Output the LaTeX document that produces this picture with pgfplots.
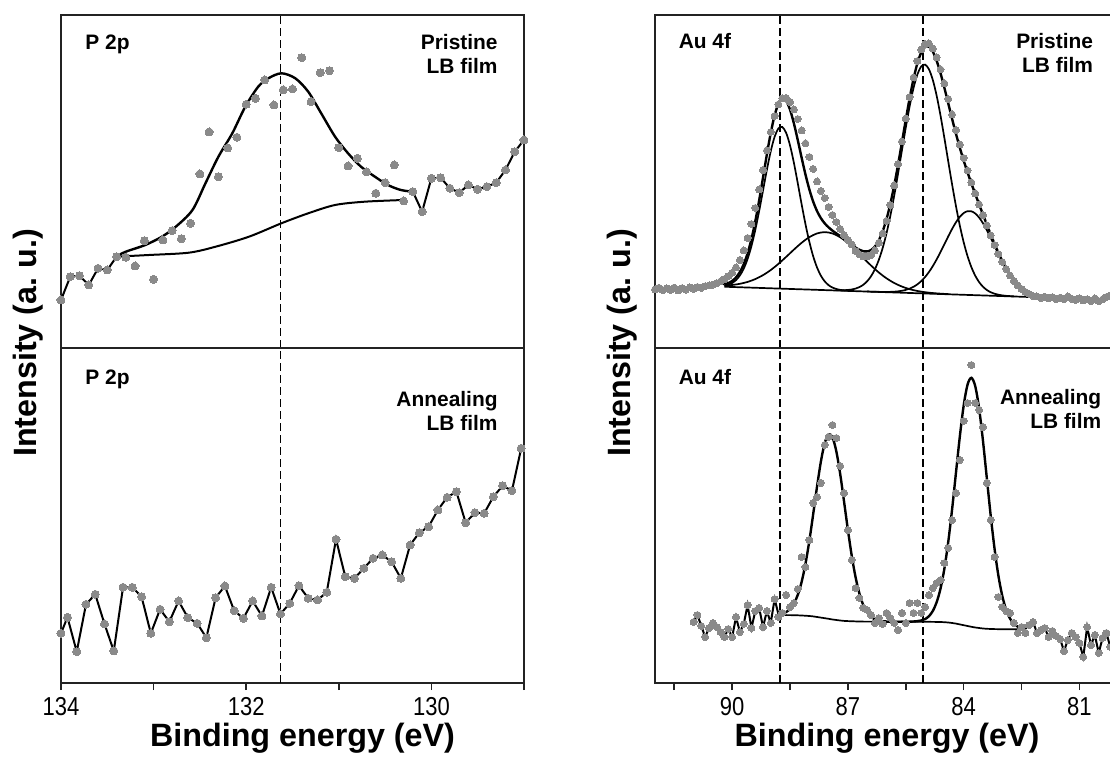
\documentclass[border=0pt]{standalone}
\usepackage{fontspec}
\setmainfont{Liberation Sans}
\newfontfamily\narrowfont[FakeStretch=0.85]{Liberation Sans}
\usepackage{pgfplots}
\pgfplotsset{compat=1.18}

\definecolor{dotgray}{RGB}{138,138,138}
\definecolor{framecol}{RGB}{35,35,35}

\tikzset{vdash/.style={black, line width=0.95bp, dash pattern=on 4bp off 2bp}}

\pgfplotsset{
  xps/.style={
    scale only axis, width=231.5bp, x dir=reverse,
    axis line style={line width=1bp, framecol},
    ytick=\empty,
    /pgf/number format/assume math mode=true,
    xticklabel style={font=\narrowfont\fontsize{13}{15}\selectfont},
    tick style={line width=0.8bp, framecol},
    tick align=outside, xtick pos=left,
    major tick length=3.5bp, minor tick length=3.5bp,
  },
  ptop/.style={height=166.5bp, ymin=0, ymax=333, xtick=\empty},
  pbot/.style={height=167.5bp, ymin=0, ymax=335},
  dots/.style={color=dotgray, only marks, mark=*, mark size=2bp, mark options={draw=dotgray, fill=dotgray, line width=0pt}},
  sdots/.style={color=dotgray, only marks, mark=*, mark size=1.75bp, mark options={draw=dotgray, fill=dotgray, line width=0pt}},
  dataline/.style={black, line width=1bp, no markers},
  fit/.style={black, line width=1.2bp, no markers, smooth, tension=0.5},
  comp/.style={black, line width=0.85bp, no markers, smooth, tension=0.5},
}

\begin{document}
\begin{tikzpicture}
\useasboundingbox (0,0) rectangle (555bp,381bp);

% ---------------- P 2p, pristine LB film ----------------
\begin{axis}[xps, ptop, at={(30.5bp,207bp)}, anchor=south west, xmin=129, xmax=134]
\addplot[dots] coordinates {
(134.0,48) (133.9,71.3) (133.8,72.3) (133.7,63) (133.6,79.7) (133.5,78)
(133.4,91.3) (133.3,90.7) (133.2,82) (133.1,107.3) (133.0,68.7) (132.9,108)
(132.8,117.3) (132.7,109.3) (132.6,124.7) (132.5,174) (132.4,216) (132.3,171.3)
(132.2,200) (132.1,210.7) (132.0,243.7) (131.9,249.7) (131.8,268) (131.7,243)
(131.6,258) (131.5,259) (131.4,290.3) (131.3,246.3) (131.2,275.3) (131.1,277.3)
(131.0,200.3) (130.9,182) (130.8,189.7) (130.7,176) (130.6,154.7) (130.5,165.3)
(130.4,183) (130.3,147) (130.2,156.3) (130.1,136.3) (130.0,169.7) (129.9,170.3)
(129.8,159.7) (129.7,155.3) (129.6,163) (129.5,158.7) (129.4,161.3) (129.3,165.3)
(129.2,178) (129.1,196.3) (129.0,208)};
\addplot[dataline] coordinates {
(134.0,48) (133.9,71.3) (133.8,72.3) (133.7,63) (133.6,79.7) (133.5,78) (133.4,91.3)};
\addplot[dataline] coordinates {
(130.2,156.3) (130.1,136.3) (130.0,169.7) (129.9,170.3) (129.8,159.7) (129.7,155.3)
(129.6,163) (129.5,158.7) (129.4,161.3) (129.3,165.3) (129.2,178) (129.1,196.3) (129.0,208)};
% fitted envelope
\addplot[fit] coordinates {
(133.41,91.3) (133.30,96.3) (133.09,103) (132.91,111.3) (132.76,121.3) (132.58,138)
(132.44,164.7) (132.30,191.3) (132.15,214.7) (132.01,241.3) (131.87,261.3) (131.76,269.7)
(131.62,274.7) (131.47,269.7) (131.33,256.3) (131.19,234.7) (131.04,211.3) (130.90,194.7)
(130.76,181.3) (130.61,171.3) (130.47,163) (130.33,158) (130.2,156.3)};
% background
\addplot[fit, line width=1bp] coordinates {
(133.41,91.3) (133.05,93) (132.62,95.3) (132.33,101.3) (131.97,111.3) (131.62,124.7)
(131.33,134.7) (131.04,143) (130.72,146.3) (130.30,148)};
\draw[vdash] (axis cs:131.63,0) -- (axis cs:131.63,333);
\end{axis}

% ---------------- P 2p, annealed LB film ----------------
\begin{axis}[xps, pbot, at={(30.5bp,39.5bp)}, anchor=south west, xmin=129, xmax=134,
  xtick={130,132,134}, minor xtick={129,131,133}]
\addplot[dots] coordinates {
(134.00,49.7) (133.93,65.7) (133.83,31.3) (133.73,78.7) (133.63,88.7) (133.53,59)
(133.43,32) (133.33,95.7) (133.23,95.7) (133.13,86.3) (133.03,49.7) (132.93,73.7)
(132.83,61.3) (132.73,82) (132.63,65.3) (132.53,59.7) (132.43,45.3) (132.33,85.3)
(132.23,97) (132.13,72.3) (132.03,64.7) (131.93,82) (131.83,67) (131.73,95.7)
(131.63,69) (131.53,79.7) (131.43,97.3) (131.33,84.7) (131.23,83) (131.13,90.7)
(131.03,143.7) (130.93,106.3) (130.83,104.7) (130.73,114.7) (130.63,124.7) (130.53,128)
(130.43,121.3) (130.33,104.7) (130.23,138) (130.13,150.3) (130.03,156.3) (129.93,173)
(129.83,185.7) (129.73,191.3) (129.63,160.3) (129.53,170.3) (129.43,169.7) (129.33,186.3)
(129.23,197.3) (129.13,192.3) (129.03,234.7)};
\addplot[dataline] coordinates {
(134.00,49.7) (133.93,65.7) (133.83,31.3) (133.73,78.7) (133.63,88.7) (133.53,59)
(133.43,32) (133.33,95.7) (133.23,95.7) (133.13,86.3) (133.03,49.7) (132.93,73.7)
(132.83,61.3) (132.73,82) (132.63,65.3) (132.53,59.7) (132.43,45.3) (132.33,85.3)
(132.23,97) (132.13,72.3) (132.03,64.7) (131.93,82) (131.83,67) (131.73,95.7)
(131.63,69) (131.53,79.7) (131.43,97.3) (131.33,84.7) (131.23,83) (131.13,90.7)
(131.03,143.7) (130.93,106.3) (130.83,104.7) (130.73,114.7) (130.63,124.7) (130.53,128)
(130.43,121.3) (130.33,104.7) (130.23,138) (130.13,150.3) (130.03,156.3) (129.93,173)
(129.83,185.7) (129.73,191.3) (129.63,160.3) (129.53,170.3) (129.43,169.7) (129.33,186.3)
(129.23,197.3) (129.13,192.3) (129.03,234.7)};
\draw[vdash] (axis cs:131.63,0) -- (axis cs:131.63,335);
\end{axis}

% ---------------- Au 4f, pristine LB film ----------------
\begin{axis}[xps, ptop, at={(327.5bp,207bp)}, anchor=south west, xmin=80, xmax=92]
\addplot[sdots] coordinates {
(92.0,58.5) (91.9,60.2) (91.8,57.8) (91.7,59.6) (91.6,58.1) (91.5,60.4) (91.4,57.5)
(91.3,59.9) (91.2,58.4) (91.1,60.6) (91.0,59.2) (90.9,61.0) (90.8,60.1) (90.7,61.8)
(90.6,62.5) (90.5,63.4) (90.4,64.8) (90.3,66.5) (90.2,68.9) (90.1,71.8) (90.0,75.2)
(89.9,80.5) (89.8,88.0) (89.7,97.5) (89.6,110.0) (89.5,124.0) (89.4,140.0) (89.3,158.5)
(89.2,178.0) (89.1,197.5) (89.0,216.0) (88.9,232.0) (88.8,243.5) (88.7,249.5) (88.6,250.0)
(88.5,246.0) (88.4,238.5) (88.3,229.0) (88.2,217.5) (88.1,204.5) (88.0,191.0) (87.9,179.0)
(87.8,166.5) (87.7,157.0) (87.6,150.0) (87.5,141.0) (87.4,133.0) (87.3,126.0) (87.2,119.0)
(87.1,113.0) (87.0,108.0) (86.9,103.5) (86.8,97.0) (86.7,93.5) (86.6,91.5) (86.5,91.5)
(86.4,93.0) (86.3,97.5) (86.2,105.0) (86.1,114.5) (86.0,127.0) (85.9,143.0) (85.8,162.5)
(85.7,184.0) (85.6,206.5) (85.5,229.5) (85.4,251.0) (85.3,270.5) (85.2,287.0) (85.1,298.5)
(85.0,304.0) (84.9,304.5) (84.8,299.5) (84.7,290.5) (84.6,278.5) (84.5,264.5) (84.4,249.0)
(84.3,233.5) (84.2,218.0) (84.1,203.5) (84.0,190.0) (83.9,177.5) (83.8,165.5) (83.7,154.5)
(83.6,143.5) (83.5,133.0) (83.4,122.5) (83.3,112.5) (83.2,103.0) (83.1,94.0) (83.0,86.0)
(82.9,79.0) (82.8,72.5) (82.7,67.0) (82.6,62.5) (82.5,59.0) (82.4,56.0) (82.3,54.0)
(82.2,52.0) (82.1,51.5) (82.0,50.0) (81.9,51.2) (81.8,49.5) (81.7,50.8) (81.6,48.9)
(81.5,50.3) (81.4,49.0) (81.3,51.5) (81.2,49.2) (81.1,48.0) (81.0,49.8) (80.9,47.5)
(80.8,48.8) (80.7,47.0) (80.6,49.5) (80.5,46.8) (80.4,48.5) (80.3,51.0) (80.2,52.5)
(80.1,50.0) (80.0,51.5)};
\addplot[dataline] coordinates {
(92.0,58.5) (91.9,60.2) (91.8,57.8) (91.7,59.6) (91.6,58.1) (91.5,60.4) (91.4,57.5)
(91.3,59.9) (91.2,58.4) (91.1,60.6) (91.0,59.2) (90.9,61.0) (90.8,60.1) (90.7,61.8)
(90.6,62.5) (90.5,63.4) (90.4,64.8) (90.3,65.5) (90.2,63.55)};
\addplot[dataline] coordinates {
(82.5,60.14) (82.4,56.0) (82.3,54.0) (82.2,52.0) (82.1,51.5) (82.0,50.0) (81.9,51.2)
(81.8,49.5) (81.7,50.8) (81.6,48.9) (81.5,50.3) (81.4,49.0) (81.3,51.5) (81.2,49.2)
(81.1,48.0) (81.0,49.8) (80.9,47.5) (80.8,48.8) (80.7,47.0) (80.6,49.5) (80.5,46.8)
(80.4,48.5) (80.3,51.0) (80.2,52.5) (80.1,50.0) (80.0,51.5)};
% background
\addplot[comp] coordinates {
(90.2,61.26) (89.0,59.7) (88.0,58.4) (87.0,57.1) (86.0,55.8) (85.0,54.5)
(84.0,53.2) (83.0,51.9) (82.0,50.6) (81.8,50.34)};
% component 4f5/2 (main)
\addplot[comp] coordinates {
(90.2,62.41) (90.1,63.33) (90.0,65.02) (89.9,67.91) (89.8,72.49) (89.7,79.37) (89.6,89.07)
(89.5,101.98) (89.4,118.14) (89.3,137.04) (89.2,157.61) (89.1,178.22) (89.0,196.78)
(88.9,211.19) (88.8,219.63) (88.7,220.98) (88.6,215.03) (88.5,202.55) (88.4,185.15)
(88.3,164.85) (88.2,143.77) (88.1,123.77) (88.0,106.17) (87.9,91.69) (87.8,80.46)
(87.7,72.27) (87.6,66.56) (87.5,62.81) (87.4,60.43) (87.3,58.98) (87.2,58.12)
(87.1,57.6) (87.0,57.27)};
% component 4f5/2 (broad)
\addplot[comp] coordinates {
(90.2,62.40) (90.0,63.02) (89.8,64.19) (89.6,66.08) (89.4,68.92) (89.2,72.86)
(89.0,77.97) (88.8,84.17) (88.6,91.14) (88.4,98.38) (88.2,105.2) (88.0,110.83)
(87.8,114.56) (87.6,115.87) (87.4,114.55) (87.2,110.75) (87.0,104.93) (86.8,97.77)
(86.6,90.03) (86.4,82.44) (86.2,75.54) (86.0,69.68) (85.8,64.98) (85.6,61.42)
(85.4,58.83) (85.2,57.02) (85.0,55.78) (84.8,54.93) (84.6,54.34) (84.4,53.9)};
% component 4f7/2 (main)
\addplot[comp] coordinates {
(87.3,57.64) (87.1,57.73) (86.9,58.51) (86.8,59.43) (86.7,60.94) (86.6,63.28)
(86.5,66.78) (86.4,71.8) (86.3,78.74) (86.2,88.0) (86.1,99.9) (86.0,114.65)
(85.9,132.25) (85.8,152.38) (85.7,174.47) (85.6,197.56) (85.5,220.47) (85.4,241.7)
(85.3,259.85) (85.2,273.5) (85.1,281.57) (85.0,283.37) (84.9,278.74) (84.8,268.08)
(84.7,252.24) (84.6,232.42) (84.5,210.05) (84.4,186.65) (84.3,163.58) (84.2,141.92)
(84.1,122.49) (84.0,105.76) (83.9,91.91) (83.8,80.83) (83.7,72.28) (83.6,65.89)
(83.5,61.27) (83.4,58.01) (83.3,55.78) (83.2,54.27) (83.1,53.27) (83.0,52.61)
(82.9,52.17) (82.7,51.62)};
% component 4f7/2 (broad)
\addplot[comp] coordinates {
(86.5,56.46) (86.3,56.24) (86.1,56.09) (85.9,56.14) (85.8,56.31) (85.7,56.65)
(85.6,57.21) (85.5,58.08) (85.4,59.37) (85.3,61.19) (85.2,63.65) (85.1,66.88)
(85.0,70.96) (84.9,75.96) (84.8,81.87) (84.7,88.59) (84.6,95.98) (84.5,103.76)
(84.4,111.58) (84.3,119.04) (84.2,125.69) (84.1,131.11) (84.0,134.91) (83.9,136.81)
(83.8,136.68) (83.7,134.52) (83.6,130.46) (83.5,124.78) (83.4,117.87) (83.3,110.15)
(83.2,102.07) (83.1,94.03) (83.0,86.38) (82.9,79.4) (82.8,73.23) (82.7,67.97)
(82.6,63.63) (82.5,60.14) (82.4,57.42) (82.3,55.34) (82.2,53.79) (82.1,52.66)
(82.0,51.84) (81.8,50.81)};
% envelope
\addplot[fit] coordinates {
(90.2,63.55) (90.1,64.86) (90.0,67.04) (89.9,70.57) (89.8,75.94) (89.7,83.79)
(89.6,94.67) (89.5,109.0) (89.4,126.84) (89.3,147.69) (89.2,170.51) (89.1,193.66)
(89.0,215.05) (88.9,232.57) (88.8,244.36) (88.7,249.25) (88.6,246.99) (88.5,238.27)
(88.4,224.61) (88.3,207.94) (88.2,190.31) (88.1,173.45) (88.0,158.6) (87.9,146.38)
(87.8,136.88) (87.7,129.79) (87.6,124.55) (87.5,120.6) (87.4,117.36) (87.3,114.58)
(87.2,111.79) (87.1,108.93) (87.0,105.99) (86.9,103.08) (86.8,100.36) (86.7,98.16)
(86.6,96.73) (86.5,96.52) (86.4,97.95) (86.3,101.48) (86.2,107.57) (86.1,116.6)
(86.0,128.81) (85.9,144.23) (85.8,162.59) (85.7,183.37) (85.6,205.63) (85.5,228.27)
(85.4,249.86) (85.3,269.1) (85.2,284.65) (85.1,295.53) (85.0,301.11) (84.9,301.28)
(84.8,296.4) (84.7,287.22) (84.6,274.78) (84.5,260.21) (84.4,244.69) (84.3,229.15)
(84.2,214.23) (84.1,200.32) (84.0,187.47) (83.9,175.65) (83.8,164.57) (83.7,153.99)
(83.6,143.67) (83.5,133.5) (83.4,123.46) (83.3,113.64) (83.2,104.18) (83.1,95.27)
(83.0,87.09) (82.9,79.8) (82.8,73.44) (82.7,68.08) (82.6,63.68) (82.5,60.14)
(82.4,57.42) (82.3,55.34) (82.2,53.79) (82.1,52.66) (82.0,51.84) (81.9,51.24) (81.8,50.81)};
\draw[vdash] (axis cs:88.75,0) -- (axis cs:88.75,333);
\draw[vdash] (axis cs:85.05,0) -- (axis cs:85.05,333);
\end{axis}

% ---------------- Au 4f, annealed LB film ----------------
\begin{axis}[xps, pbot, at={(327.5bp,39.5bp)}, anchor=south west, xmin=80, xmax=92,
  xtick={81,84,87,90}, minor xtick={82.5,85.5,88.5,91.5}]
\addplot[sdots] coordinates {
(91.0,61) (90.9,68) (90.8,57) (90.7,46) (90.6,55) (90.5,60) (90.4,56) (90.3,51)
(90.2,46) (90.1,54) (90.0,46) (89.9,66) (89.8,51) (89.7,59) (89.6,78) (89.5,55)
(89.4,72) (89.3,75) (89.2,56) (89.1,72) (89.0,60) (88.9,84) (88.8,66) (88.7,70)
(88.6,88) (88.5,76) (88.4,80) (88.3,94) (88.2,126) (88.1,116) (88.0,143) (87.9,180)
(87.8,186) (87.7,200) (87.6,238) (87.5,246) (87.4,258) (87.3,245) (87.2,217) (87.1,190)
(87.0,153) (86.9,123) (86.8,95) (86.7,85) (86.6,75) (86.5,73) (86.4,68) (86.3,60)
(86.2,65) (86.1,59) (86.0,70) (85.9,65) (85.8,60) (85.7,53) (85.6,70) (85.5,60)
(85.4,80) (85.3,70) (85.2,80) (85.1,70) (85.0,76) (84.9,88) (84.8,95) (84.7,100)
(84.6,103) (84.5,120) (84.4,135) (84.3,163) (84.2,190) (84.1,223) (84.0,262) (83.9,280)
(83.8,318) (83.7,280) (83.6,273) (83.5,256) (83.4,200) (83.3,163) (83.2,126) (83.1,86)
(83.0,76) (82.9,72) (82.8,70) (82.7,60) (82.6,50) (82.5,56) (82.4,50) (82.3,58)
(82.2,61) (82.1,50) (82.0,53) (81.9,55) (81.8,46) (81.7,52) (81.6,47) (81.5,44)
(81.4,32) (81.3,43) (81.2,50) (81.1,46) (81.0,40) (80.9,26) (80.8,56) (80.7,38)
(80.6,48) (80.5,30) (80.4,45) (80.3,50) (80.2,36) (80.1,44) (80.0,40)};
\addplot[dataline] coordinates {
(91.0,61) (90.9,68) (90.8,57) (90.7,46) (90.6,55) (90.5,60) (90.4,56) (90.3,51)
(90.2,46) (90.1,54) (90.0,46) (89.9,66) (89.8,51) (89.7,59) (89.6,78) (89.5,55)
(89.4,72) (89.3,75) (89.2,56) (89.1,72) (89.0,60) (88.9,84) (88.8,68.64)};
\addplot[dataline] coordinates {
(82.4,54.23) (82.3,58) (82.2,61) (82.1,50) (82.0,53) (81.9,55) (81.8,46) (81.7,52)
(81.6,47) (81.5,44) (81.4,32) (81.3,43) (81.2,50) (81.1,46) (81.0,40) (80.9,26)
(80.8,56) (80.7,38) (80.6,48) (80.5,30) (80.4,45) (80.3,50) (80.2,36) (80.1,44) (80.0,40)};
% background
\addplot[comp] coordinates {
(88.8,68.0) (88.6,67.9) (88.4,67.8) (88.2,67.5) (88.0,67.0) (87.9,66.6) (87.8,66.0)
(87.7,65.4) (87.6,64.8) (87.5,64.2) (87.4,63.5) (87.3,63.0) (87.2,62.5) (87.1,62.1)
(87.0,61.9) (86.8,61.6) (86.6,61.4) (86.0,61.3) (85.0,61.2) (84.6,61.0) (84.5,60.8)
(84.4,60.5) (84.3,60.0) (84.2,59.4) (84.1,58.6) (84.0,57.8) (83.9,57.0) (83.8,56.2)
(83.7,55.5) (83.6,55.0) (83.5,54.5) (83.4,54.2) (83.2,53.9) (83.0,53.8) (82.4,53.7)};
% envelope
\addplot[fit] coordinates {
(88.8,68.64) (88.7,69.45) (88.6,70.99) (88.5,74.07) (88.4,79.36) (88.3,88.03)
(88.2,101.02) (88.1,119.14) (88.0,142.18) (87.9,168.87) (87.8,196.48) (87.7,221.54)
(87.6,240.05) (87.5,248.67) (87.4,245.61) (87.3,231.63) (87.2,208.95) (87.1,181.39)
(87.0,153.03) (86.9,126.99) (86.8,105.48) (86.7,89.16) (86.6,77.75) (86.5,70.47)
(86.4,66.11) (86.3,63.7) (86.2,62.45) (86.1,61.85) (86.0,61.47) (85.8,61.3)
(85.6,61.3) (85.4,61.3) (85.3,61.51) (85.2,61.83) (85.1,62.54) (85.0,63.92)
(84.9,66.79) (84.8,72.01) (84.7,80.8) (84.6,94.42) (84.5,114.31) (84.4,140.98)
(84.3,173.62) (84.2,210.12) (84.1,246.35) (84.0,277.42) (83.9,298.31) (83.8,305.2)
(83.7,296.81) (83.6,274.62) (83.5,242.25) (83.4,204.92) (83.3,167.62) (83.2,134.38)
(83.1,107.31) (83.0,87.22) (82.9,73.3) (82.8,64.51) (82.7,59.29) (82.6,56.42)
(82.5,54.94) (82.4,54.23)};
\draw[vdash] (axis cs:88.75,0) -- (axis cs:88.75,335);
\draw[vdash] (axis cs:85.05,0) -- (axis cs:85.05,335);
\end{axis}

% panel annotations
\begin{scope}[every node/.style={font=\bfseries\fontsize{10.5}{12}\selectfont, inner sep=0pt}]
\node[anchor=base west] at (42.5bp,356bp) {P 2p};
\node[anchor=base east] at (249bp,356.3bp) {Pristine};
\node[anchor=base east] at (249bp,344bp) {LB film};
\node[anchor=base west] at (42.5bp,188.5bp) {P 2p};
\node[anchor=base east] at (249bp,177.6bp) {Annealing};
\node[anchor=base east] at (249bp,165.6bp) {LB film};
\node[anchor=base west] at (339.2bp,356.8bp) {Au 4f};
\node[anchor=base east] at (546.7bp,356.5bp) {Pristine};
\node[anchor=base east] at (546.7bp,344.6bp) {LB film};
\node[anchor=base west] at (339.2bp,188.8bp) {Au 4f};
\node[anchor=base east] at (550.8bp,178.5bp) {Annealing};
\node[anchor=base east] at (550.8bp,166.8bp) {LB film};
\end{scope}

% axis titles
\begin{scope}[every node/.style={font=\bfseries\fontsize{16.2}{19}\selectfont, inner sep=0pt}]
\node[anchor=base] at (151.25bp,7.65bp) {Binding energy (eV)};
\node[anchor=base] at (443.5bp,7.65bp) {Binding energy (eV)};
\node[rotate=90] at (14bp,209.5bp) {Intensity (a.\ u.)};
\node[rotate=90] at (311bp,209.5bp) {Intensity (a.\ u.)};
\end{scope}
\end{tikzpicture}
\end{document}
